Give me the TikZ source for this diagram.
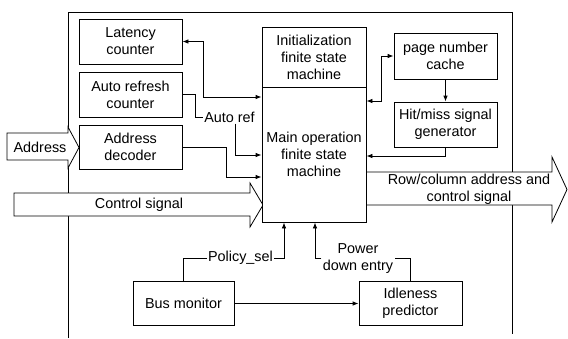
\documentclass[tikz,border=0pt]{standalone}
\usepackage{fontspec}
\setmainfont{Liberation Sans}
\usetikzlibrary{arrows.meta}
\tikzset{
  blk/.style={draw,fill=white,minimum width=103pt,minimum height=45pt,align=center,inner sep=1pt},
  lbl/.style={inner sep=1pt,align=center},
  fat/.style={draw,fill=white},
  >={Latex[length=6pt,width=4.5pt]}
}
\begin{document}
\begin{tikzpicture}[x=1pt,y=-1pt,line width=0.8pt,font=\fontsize{14.4}{17}\selectfont]
    \useasboundingbox (0,0) rectangle (568,338);
    \draw (68,338) -- (68,12) -- (512,12) -- (512,334);
    \filldraw[fat] (7,133) -- (68,133) -- (68,127) -- (79,147.5) -- (68,168) -- (68,160) -- (7,160) -- cycle;
    \filldraw[fat] (14,193) -- (250,193) -- (250,183) -- (263,205) -- (250,227) -- (250,216) -- (14,216) -- cycle;
    \filldraw[fat] (366,172) -- (552,172) -- (552,157) -- (567,189.5) -- (552,222) -- (552,205) -- (366,205) -- cycle;
    \node (addr) at (40,147) {Address};
    \node (ctrl) at (139,205) {Control signal};
    \node[lbl] (rowcol) at (469,189) {Row/column address and\\control signal};
    \node[blk] (lat) at (130.5,41.5) {Latency\\counter};
    \node[blk] (aref) at (130.5,94.5) {Auto refresh\\counter};
    \node[blk,minimum height=44pt] (adec) at (130.5,147) {Address\\decoder};
    \node[blk,minimum width=104pt,minimum height=60pt] (init) at (314,57) {Initialization\\finite state\\machine};
    \node[blk,minimum width=104pt,minimum height=135pt] (main) at (314,154.5) {Main operation\\finite state\\machine};
    \node[blk,minimum height=46pt] (pnc) at (445.5,56) {page number\\cache};
    \node[blk] (hit) at (445.5,124.5) {Hit/miss signal\\generator};
    \node[blk,minimum width=101pt,minimum height=44pt] (bus) at (183.5,303.5) {Bus monitor};
    \node[blk,minimum height=44pt] (idle) at (410.5,303.5) {Idleness\\predictor};
    \node[lbl] (autoref) at (229.5,117) {Auto ref};
    \node[lbl] (policy) at (240.5,258) {Policy\_sel};
    \node[lbl] (power) at (358,258.5) {Power\\down entry};
    \coordinate (k1) at (203,97);
    \coordinate (k2) at (195,117);
    \coordinate (k3) at (235,155);
    \coordinate (k4) at (226,177);
    \coordinate (k5) at (381,101);
    \coordinate (k6) at (445.5,156);
    \coordinate (k7) at (284,258);
    \coordinate (k8) at (315,258);
    \draw[<->] (lat.east) -| (k1) -- (k1 -| main.west);
    \draw (aref.east) -| (k2) -- (autoref.west);
    \draw[->] (autoref.south -| k3) -- (k3) -- (k3 -| main.west);
    \draw[->] (adec.east) -| (k4) -- (k4 -| main.west);
    \draw[<->] (main.east |- k5) -- (k5) |- (pnc.west);
    \draw[->] (pnc.south) -- (hit.north);
    \draw[->] (hit.south) -- (k6) -- (k6 -| main.east);
    \draw (bus.north) |- (policy.west);
    \draw[->] (policy.east) -- (k7) -- (k7 |- main.south);
    \draw (idle.north) |- (power.east);
    \draw[->] (power.west |- k8) -- (k8) -- (k8 |- main.south);
    \draw[->] (bus.east) -- (idle.west);
\end{tikzpicture}
\end{document}
